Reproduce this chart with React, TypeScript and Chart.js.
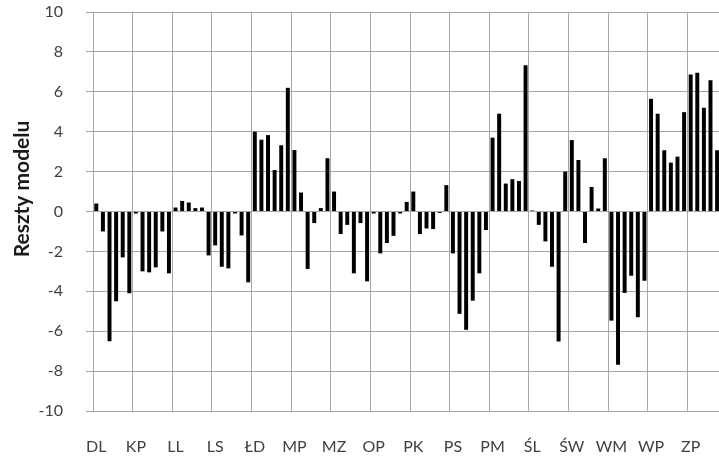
import React, { useEffect, useRef } from 'react';
import { Chart, registerables } from 'chart.js';

Chart.register(...registerables);

// Voivodeship codes (x-axis categories, one label per group of 6 bars)
const regions = ['DL', 'KP', 'LL', 'LS', 'ŁD', 'MP', 'MZ', 'OP', 'PK', 'PS', 'PM', 'ŚL', 'ŚW', 'WM', 'WP', 'ZP'];

// Model residuals, six per voivodeship (last ZP bar lies outside the visible picture)
const residuals: (number | null)[][] = [
  [0.4, -1.0, -6.5, -4.5, -2.3, -4.1],
  [-0.1, -3.0, -3.05, -2.8, -1.0, -3.1],
  [0.2, 0.53, 0.45, 0.17, 0.2, -2.2],
  [-1.7, -2.77, -2.85, -0.1, -1.2, -3.55],
  [4.0, 3.6, 3.83, 2.08, 3.32, 6.2],
  [3.08, 0.95, -2.88, -0.58, 0.17, 2.67],
  [1.0, -1.13, -0.67, -3.1, -0.58, -3.5],
  [-0.1, -2.1, -1.58, -1.22, -0.1, 0.48],
  [1.0, -1.13, -0.85, -0.88, -0.07, 1.32],
  [-2.1, -5.13, -5.93, -4.47, -3.1, -0.93],
  [3.7, 4.9, 1.4, 1.62, 1.53, 7.33],
  [0.05, -0.67, -1.5, -2.77, -6.52, 2.0],
  [3.58, 2.58, -1.58, 1.23, 0.15, 2.67],
  [-5.47, -7.68, -4.08, -3.22, -5.3, -3.47],
  [5.65, 4.9, 3.07, 2.45, 2.75, 4.98],
  [6.87, 6.95, 5.2, 6.58, 3.07, null],
];

const barsPerRegion = 6;
const yTitle = 'Reszty modelu';
const yMin = -10;
const yMax = 10;
const yStep = 2;

export default function App() {
  const ref = useRef<HTMLCanvasElement>(null);

  useEffect(() => {
    if (!ref.current) return;
    const labels: string[] = [];
    const values: (number | null)[] = [];
    regions.forEach((r, i) => {
      residuals[i].forEach((v, j) => {
        labels.push(j === 0 ? r : '');
        values.push(v);
      });
    });

    const gridColor = '#a6a6a6';
    const textColor = '#404040';

    const titlePlugin = {
      id: 'yTitleDraw',
      afterDraw(chart: any) {
        const ctx = chart.ctx;
        ctx.save();
        ctx.translate(22, 189);
        ctx.rotate(-Math.PI / 2);
        ctx.font = 'bold 21px Lato';
        ctx.fillStyle = '#1a1a1a';
        ctx.textAlign = 'center';
        ctx.textBaseline = 'middle';
        ctx.fillText(yTitle, 0, 0);
        ctx.restore();
      },
    };

    const chart = new Chart(ref.current, {
      type: 'bar',
      data: {
        labels,
        datasets: [
          {
            data: values,
            backgroundColor: '#000000',
            borderWidth: 0,
            barPercentage: 0.6,
            categoryPercentage: 1.0,
          },
        ],
      },
      options: {
        responsive: false,
        animation: false,
        devicePixelRatio: 1,
        layout: { padding: { top: 12, left: 0, right: 0, bottom: 0 } },
        plugins: {
          legend: { display: false },
          tooltip: { enabled: false },
          title: { display: false },
        },
        scales: {
          x: {
            type: 'category',
            grid: {
              offset: true,
              drawTicks: false,
              color: (c: any) => (c.index % barsPerRegion === 0 ? gridColor : 'rgba(0,0,0,0)'),
              lineWidth: 1,
            },
            border: { display: true, color: gridColor },
            ticks: {
              autoSkip: false,
              maxRotation: 0,
              minRotation: 0,
              padding: 26,
              color: textColor,
              font: { family: 'Lato', size: 16 },
            },
            afterFit: (s: any) => {
              s.height = 45;
              s.paddingLeft = 0;
              s.paddingRight = 0;
            },
          },
          y: {
            min: yMin,
            max: yMax,
            ticks: {
              stepSize: yStep,
              padding: 23,
              color: textColor,
              font: { family: 'Lato', size: 16 },
            },
            grid: {
              color: gridColor,
              lineWidth: 1,
              drawTicks: true,
              tickLength: 7,
            },
            border: { display: true, color: gridColor },
            afterFit: (s: any) => {
              s.width = 93;
              s.paddingTop = 10;
              s.paddingBottom = 10;
            },
          },
        },
      },
      plugins: [titlePlugin],
    });

    return () => chart.destroy();
  }, []);

  return (
    <div
      style={{
        position: 'fixed',
        left: 0,
        top: 0,
        width: 719,
        height: 456,
        overflow: 'hidden',
        background: '#ffffff',
      }}
    >
      <canvas ref={ref} width={727} height={456} style={{ display: 'block', width: 727, height: 456 }} />
    </div>
  );
}
